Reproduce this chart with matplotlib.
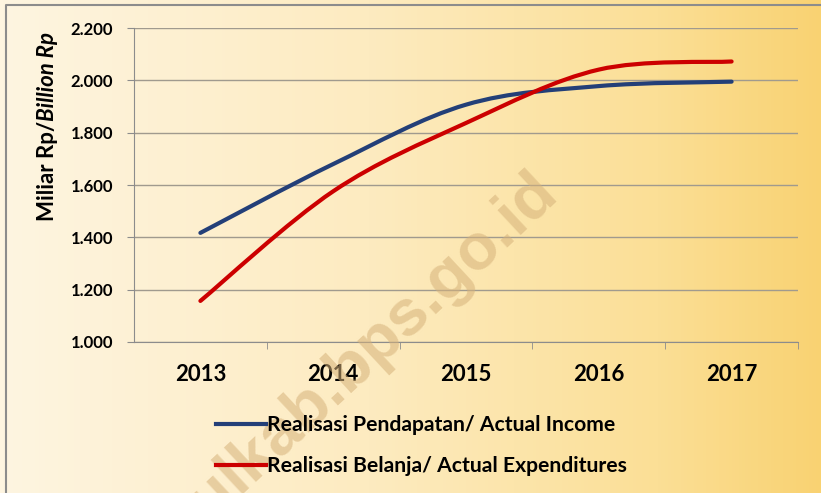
import numpy as np
import matplotlib
matplotlib.use("Agg")
import matplotlib.pyplot as plt
from matplotlib.path import Path
from matplotlib.patches import PathPatch
from matplotlib.colors import LinearSegmentedColormap
from matplotlib.lines import Line2D

# data (Miliar Rp)
years = ["2013", "2014", "2015", "2016", "2017"]
income = [1417, 1680, 1907, 1978, 1995]
expend = [1157, 1576, 1837, 2041, 2072]
yticks = [1000, 1200, 1400, 1600, 1800, 2000, 2200]
lab_income = "Realisasi Pendapatan/ Actual Income"
lab_expend = "Realisasi Belanja/ Actual Expenditures"

W, H = 821, 493
fig = plt.figure(figsize=(W / 100, H / 100), dpi=100)

# latar gradasi krem -> kuning
bg = fig.add_axes([0, 0, 1, 1], zorder=-10)
cmap = LinearSegmentedColormap.from_list(
    "bg", [(0, "#fef5e1"), (0.45, "#fdebc0"), (0.8, "#fbdf96"), (1, "#f9d272")])
bg.imshow(np.linspace(0, 1, 256)[None, :], aspect="auto", cmap=cmap,
          extent=[0, 1, 0, 1])
bg.set_xlim(0, 1)
bg.set_ylim(0, 1)
bg.axis("off")
# bingkai
bg.add_line(Line2D([5.5 / W, 5.5 / W, 1.0], [0, 1 - 4.5 / H, 1 - 4.5 / H],
                   color="#8c8c8c", lw=1.5))

ax = fig.add_axes([134 / W, (H - 342) / H, 664 / W, 314 / H])
ax.set_facecolor("none")
x = np.arange(len(years))


def smooth(xs, ys):
    # kurva halus ala Excel (Bezier, tension 1/6)
    p = np.column_stack([xs, ys]).astype(float)
    p = np.vstack([p[0], p, p[-1]])
    verts = [p[1]]
    codes = [Path.MOVETO]
    for i in range(1, len(p) - 2):
        c1 = p[i] + (p[i + 1] - p[i - 1]) / 6
        c2 = p[i + 1] - (p[i + 2] - p[i]) / 6
        verts += [c1, c2, p[i + 1]]
        codes += [Path.CURVE4] * 3
    return Path(verts, codes)


for ys, c in [(income, "#233f78"), (expend, "#cc0000")]:
    ax.add_patch(PathPatch(smooth(x, ys), fc="none", ec=c, lw=3.0,
                           capstyle="round", zorder=3))

ax.set_xlim(-0.5, 4.5)
ax.set_ylim(1000, 2200)
ax.set_yticks(yticks)
ax.set_yticklabels([f"{v:,}".replace(",", ".") for v in yticks])
ax.set_xticks(x)
ax.set_xticklabels(years)
ax.set_xticks(np.arange(0.5, 5, 1), minor=True)
ax.grid(axis="y", color="#a09a8e", lw=1)
ax.set_axisbelow(True)
for s in ["top", "right"]:
    ax.spines[s].set_visible(False)
for s in ["left", "bottom"]:
    ax.spines[s].set_color("#8c8c8c")
ax.tick_params(axis="y", length=5, color="#8c8c8c", pad=10, labelsize=12)
ax.tick_params(axis="x", which="major", length=0, pad=16, labelsize=16)
ax.tick_params(axis="x", which="minor", length=5, color="#8c8c8c")
for t in ax.get_xticklabels() + ax.get_yticklabels():
    t.set_fontfamily("Lato")
    t.set_fontweight("bold")

# label sumbu y: sebagian miring
t1 = fig.text(48 / W, 1 - 221 / H, "Miliar Rp/", rotation=90, fontsize=16,
              fontweight="bold", family="Lato", ha="center", va="bottom")
fig.canvas.draw()
bb = t1.get_window_extent()
fig.text(48 / W, bb.y1 / H, "Billion Rp", rotation=90, fontsize=16,
         fontweight="bold", style="italic", family="Lato", ha="center",
         va="bottom")

leg = fig.legend(handles=[Line2D([], [], color="#233f78", lw=3),
                          Line2D([], [], color="#cc0000", lw=3)],
                 labels=[lab_income, lab_expend], loc="upper left",
                 bbox_to_anchor=(197 / W, 1 - 396 / H), frameon=False,
                 prop={"family": "Lato", "weight": "bold", "size": 15.2},
                 handlelength=2.35, handletextpad=0.05, labelspacing=1.0)

# watermark
fig.text(560 / W, 1 - 195 / H, "bantulkab.bps.go.id", rotation=43,
         rotation_mode="anchor", ha="right", va="baseline", fontsize=47,
         fontweight="bold", family="Liberation Sans", color="#d6b27a",
         alpha=0.55, zorder=5)

fig.savefig("out.png", dpi=100)
